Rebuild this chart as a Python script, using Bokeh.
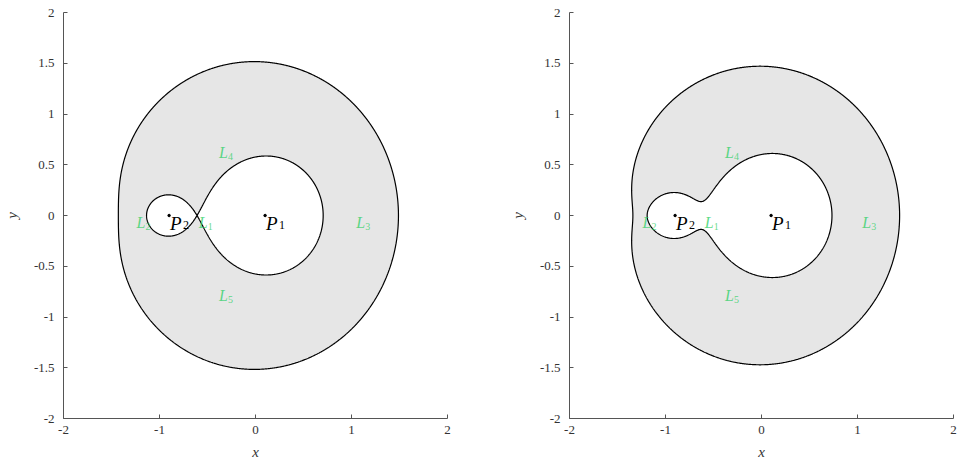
import numpy as np
from bokeh.plotting import figure
from bokeh.layouts import row
from bokeh.models import FixedTicker, CustomJSTickFormatter
from bokeh.core.properties import value
from bokeh.embed import file_html
from bokeh.resources import INLINE

# ---- data ----
MU = 0.1                       # mass ratio of the primaries
JACOBI_C = [3.597, 3.50]       # Jacobi constant for left / right panel
X_TICKS = [-2, -1, 0, 1, 2]
Y_TICKS = [-2, -1.5, -1, -0.5, 0, 0.5, 1, 1.5, 2]
PRIMARY_SUB = ["1", "2"]
PRIMARY_X = [MU, MU - 1]
PRIMARY_Y = [0.0, 0.0]
L_SUB = ["1", "2", "3", "4", "5"]
L_X = [-0.59, -1.24, 1.05, -0.38, -0.38]
L_Y = [-0.07, -0.07, -0.07, 0.62, -0.79]

SERIF = value("Liberation Serif")

gx = np.linspace(-2, 2, 641)
gy = np.linspace(-2, 2, 641)
GX, GY = np.meshgrid(gx, gy)
r1 = np.sqrt((GX - MU) ** 2 + GY ** 2)
r2 = np.sqrt((GX - MU + 1) ** 2 + GY ** 2)
with np.errstate(divide="ignore"):
    Z = GX ** 2 + GY ** 2 + 2 * (1 - MU) / r1 + 2 * MU / r2
Z = np.clip(np.nan_to_num(Z, nan=10.0, posinf=10.0), 0, 10.0)


def make_panel(C, left, right):
    p = figure(width=left + 386 + right, height=468,
               x_range=(-2, 2), y_range=(-2, 2),
               min_border_left=left, min_border_right=right,
               min_border_top=12, min_border_bottom=50,
               output_backend="svg", toolbar_location=None)
    p.outline_line_color = None
    p.xgrid.visible = False
    p.ygrid.visible = False
    p.background_fill_color = "white"
    p.border_fill_color = "white"

    p.contour(gx, gy, Z, levels=[0.0, C], fill_color="#e6e6e6", line_color=None)
    p.contour(gx, gy, Z, levels=[C], line_color="black", line_width=1.2)

    # primaries
    p.scatter(PRIMARY_X, PRIMARY_Y, size=2.5, color="black")
    p.text(x=PRIMARY_X, y=PRIMARY_Y, text=["P", "P"], text_font=SERIF,
           text_font_style="italic", text_font_size="19px", text_color="black",
           text_align="left", text_baseline="top", x_offset=1, y_offset=-3)
    p.text(x=PRIMARY_X, y=PRIMARY_Y, text=PRIMARY_SUB, text_font=SERIF,
           text_font_size="12px", text_color="black",
           text_align="left", text_baseline="top", x_offset=14, y_offset=5)

    # libration points
    p.text(x=L_X, y=L_Y, text=["L"] * 5, text_font=SERIF,
           text_font_style="italic", text_font_size="16px", text_color="#2ccf62",
           text_alpha=0.75, text_align="left", text_baseline="middle")
    p.text(x=L_X, y=L_Y, text=L_SUB, text_font=SERIF,
           text_font_size="10px", text_color="#2ccf62", text_alpha=0.75,
           text_align="left", text_baseline="middle", x_offset=9, y_offset=4)

    fmt = CustomJSTickFormatter(code="return tick.toString();")
    for ax, ticks, lab in ((p.xaxis[0], X_TICKS, "x"), (p.yaxis[0], Y_TICKS, "y")):
        ax.ticker = FixedTicker(ticks=ticks)
        ax.formatter = fmt
        ax.axis_label = lab
        ax.axis_label_text_font = "Liberation Serif"
        ax.axis_label_text_font_style = "italic"
        ax.axis_label_text_font_size = "15px"
        ax.axis_label_text_color = "#333333"
        ax.major_label_text_font = "Liberation Serif"
        ax.major_label_text_font_size = "13px"
        ax.major_label_text_color = "#333333"
        ax.axis_line_color = "#555555"
        ax.axis_line_width = 1
        ax.major_tick_line_color = "#555555"
        ax.major_tick_in = 4
        ax.major_tick_out = 0
        ax.minor_tick_line_color = None
    p.xaxis[0].major_label_standoff = 7
    p.xaxis[0].axis_label_standoff = 7
    p.yaxis[0].major_label_standoff = 9
    p.yaxis[0].axis_label_standoff = 11
    return p


p1 = make_panel(JACOBI_C[0], 61, 59)
p2 = make_panel(JACOBI_C[1], 61, 4)
layout = row(p1, p2)
open("out.html", "w").write(file_html(layout, INLINE))
